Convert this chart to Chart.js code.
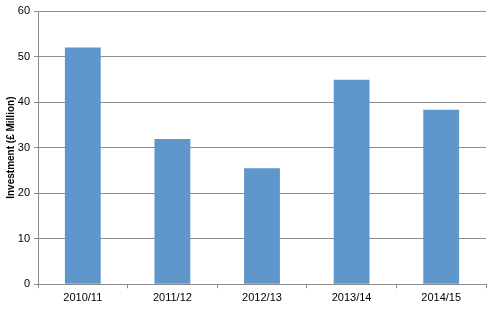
<!DOCTYPE html>
<html>
<head>
<meta charset="utf-8">
<script src="https://cdn.jsdelivr.net/npm/chart.js@4.4.1/dist/chart.umd.min.js"></script>
<style>
    html, body { margin: 0; padding: 0; background: #ffffff; }
    #chart { display: block; }
</style>
</head>
<body>
<canvas id="chart" width="491" height="309"></canvas>
<script>
const years = ['2010/11', '2011/12', '2012/13', '2013/14', '2014/15'];
const investment = [52.0, 31.9, 25.5, 44.9, 38.3];
const yTicks = [0, 10, 20, 30, 40, 50, 60];

const BAR_COLOR = '#5F96CB';
const GRID_COLOR = '#8C8C8C';
const FONT = 'Liberation Sans, Arial, sans-serif';

const ctx = document.getElementById('chart');
new Chart(ctx, {
    type: 'bar',
    data: {
        labels: years,
        datasets: [
            {
                label: 'Investment',
                data: investment,
                backgroundColor: BAR_COLOR,
                borderWidth: 0,
                categoryPercentage: 1,
                barPercentage: 0.4
            }
        ]
    },
    options: {
        responsive: false,
        animation: false,
        layout: {
            padding: { top: 11, right: 5, left: 0, bottom: 0 }
        },
        plugins: {
            legend: { display: false },
            tooltip: { enabled: false }
        },
        scales: {
            x: {
                grid: {
                    drawOnChartArea: false,
                    drawTicks: true,
                    tickLength: 4,
                    color: GRID_COLOR,
                    offset: true
                },
                border: { color: GRID_COLOR, width: 1 },
                ticks: {
                    color: '#000000',
                    font: { family: FONT, size: 11 },
                    padding: 3,
                    maxRotation: 0
                },
                afterFit: (scale) => { scale.height = 24.7; }
            },
            y: {
                min: 0,
                max: 60,
                afterBuildTicks: (scale) => {
                    scale.ticks = yTicks.map((value) => ({ value }));
                },
                grid: {
                    color: GRID_COLOR,
                    tickLength: 4,
                    lineWidth: 1
                },
                border: { color: GRID_COLOR, width: 1 },
                ticks: {
                    color: '#000000',
                    font: { family: FONT, size: 11 },
                    padding: 4
                },
                title: {
                    display: true,
                    text: 'Investment (£ Million)',
                    color: '#000000',
                    font: { family: FONT, size: 10, weight: 'bold' },
                    padding: { top: 5, bottom: 0 }
                },
                afterFit: (scale) => { scale.width = 38; }
            }
        }
    }
});
</script>
</body>
</html>
